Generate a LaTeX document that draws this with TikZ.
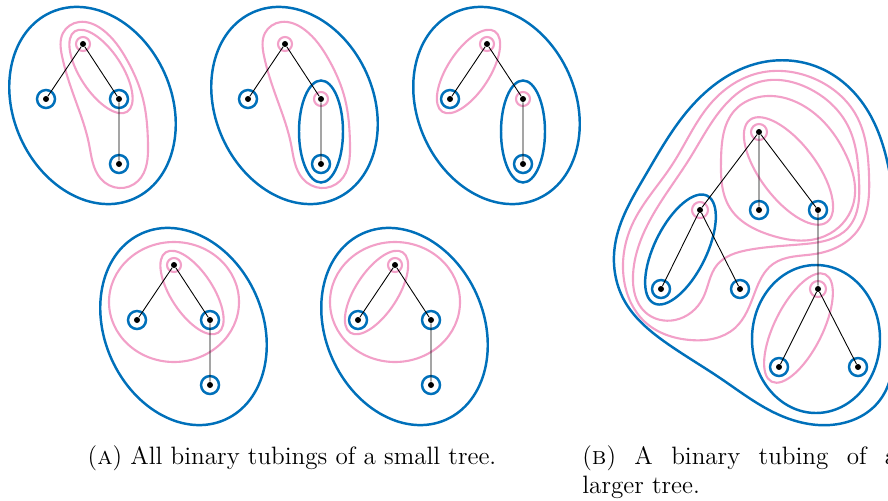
\documentclass[tikz,border=0pt]{standalone}
\usepackage{xcolor}
\usepackage{tikz}
\usetikzlibrary{calc, hobby}
\definecolor{tubeblue}{RGB}{0,112,186}
\definecolor{tubepink}{RGB}{242,160,200}

\begin{document}
\begin{tikzpicture}[x=0.02cm, y=-0.02cm,
    vertex/.style={circle, fill=black, inner sep=0pt, minimum size=0.12cm},
    edge/.style={draw=black, line width=0.5pt},
    btube/.style={draw=tubeblue, line width=1.4pt},
    ptube/.style={draw=tubepink, line width=1.2pt},
    caption/.style={font=\fontsize{14.3}{16.5}\selectfont, inner sep=0pt}]
  \useasboundingbox (0,0) rectangle (888,500);

  % (a) tree 1
  \begin{scope}[shift={(83,44)}]
    \node[vertex] (t1r) at (0,0) {};
    \node[vertex] (t1l) at (-37,55) {};
    \node[vertex] (t1c) at (36,55) {};
    \node[vertex] (t1g) at (36,120) {};
    \coordinate (t1m) at ($(t1r)!0.5!(t1c)$);
    \draw[btube, rotate around={24:(9.5,61.5)}] (9.5,61.5) ellipse [x radius=79, y radius=102];
    \draw[ptube, use Hobby shortcut, closed=true] (-4,-22) .. (20,-14) .. (44,16) .. (60,55)
      .. (65,100) .. (55,137) .. (36,144) .. (18,135) .. (6,100) .. (-8,55) .. (-21,12) .. (-20,-11);
    \draw[ptube, rotate around={-56.8:(t1m)}] (t1m) ellipse [x radius=48, y radius=21];
    \draw[ptube] (t1r.center) circle (7);
    \draw[btube] (t1l.center) circle (9) (t1c.center) circle (9) (t1g.center) circle (9);
    \draw[edge] (t1r) -- (t1l) (t1r) -- (t1c) (t1c) -- (t1g);
  \end{scope}

  % (a) tree 2
  \begin{scope}[shift={(285,44)}]
    \node[vertex] (t2r) at (0,0) {};
    \node[vertex] (t2l) at (-37,55) {};
    \node[vertex] (t2c) at (36,55) {};
    \node[vertex] (t2g) at (36,120) {};
    \draw[btube, rotate around={24:(9.5,61.5)}] (9.5,61.5) ellipse [x radius=79, y radius=102];
    \draw[ptube, use Hobby shortcut, closed=true] (-4,-22) .. (20,-14) .. (44,16) .. (60,55)
      .. (65,100) .. (55,137) .. (36,144) .. (18,135) .. (6,100) .. (-8,55) .. (-21,12) .. (-20,-11);
    \draw[btube] ($(t2c)!0.5!(t2g)$) ellipse [x radius=22, y radius=51];
    \draw[ptube] (t2r.center) circle (7) (t2c.center) circle (7);
    \draw[btube] (t2l.center) circle (9) (t2g.center) circle (9);
    \draw[edge] (t2r) -- (t2l) (t2r) -- (t2c) (t2c) -- (t2g);
  \end{scope}

  % (a) tree 3
  \begin{scope}[shift={(487,44)}]
    \node[vertex] (t3r) at (0,0) {};
    \node[vertex] (t3l) at (-37,55) {};
    \node[vertex] (t3c) at (36,55) {};
    \node[vertex] (t3g) at (36,120) {};
    \coordinate (t3m) at ($(t3r)!0.5!(t3l)$);
    \draw[btube, rotate around={24:(9.5,61.5)}] (9.5,61.5) ellipse [x radius=79, y radius=102];
    \draw[ptube, rotate around={56.8:(t3m)}] (t3m) ellipse [x radius=48, y radius=21];
    \draw[btube] ($(t3c)!0.5!(t3g)$) ellipse [x radius=22, y radius=51];
    \draw[ptube] (t3r.center) circle (7) (t3c.center) circle (7);
    \draw[btube] (t3l.center) circle (9) (t3g.center) circle (9);
    \draw[edge] (t3r) -- (t3l) (t3r) -- (t3c) (t3c) -- (t3g);
  \end{scope}

  % (a) tree 4
  \begin{scope}[shift={(174,265)}]
    \node[vertex] (t4r) at (0,0) {};
    \node[vertex] (t4l) at (-37,55) {};
    \node[vertex] (t4c) at (36,55) {};
    \node[vertex] (t4g) at (36,120) {};
    \coordinate (t4m) at ($(t4r)!0.5!(t4c)$);
    \draw[btube, rotate around={24:(9.5,61.5)}] (9.5,61.5) ellipse [x radius=79, y radius=102];
    \draw[ptube] (0,37) ellipse [x radius=65, y radius=60];
    \draw[ptube, rotate around={-56.8:(t4m)}] (t4m) ellipse [x radius=48, y radius=21];
    \draw[ptube] (t4r.center) circle (7);
    \draw[btube] (t4l.center) circle (9) (t4c.center) circle (9) (t4g.center) circle (9);
    \draw[edge] (t4r) -- (t4l) (t4r) -- (t4c) (t4c) -- (t4g);
  \end{scope}

  % (a) tree 5
  \begin{scope}[shift={(395,265)}]
    \node[vertex] (t5r) at (0,0) {};
    \node[vertex] (t5l) at (-37,55) {};
    \node[vertex] (t5c) at (36,55) {};
    \node[vertex] (t5g) at (36,120) {};
    \coordinate (t5m) at ($(t5r)!0.5!(t5l)$);
    \draw[btube, rotate around={24:(9.5,61.5)}] (9.5,61.5) ellipse [x radius=79, y radius=102];
    \draw[ptube] (0,37) ellipse [x radius=65, y radius=60];
    \draw[ptube, rotate around={56.8:(t5m)}] (t5m) ellipse [x radius=48, y radius=21];
    \draw[ptube] (t5r.center) circle (7);
    \draw[btube] (t5l.center) circle (9) (t5c.center) circle (9) (t5g.center) circle (9);
    \draw[edge] (t5r) -- (t5l) (t5r) -- (t5c) (t5c) -- (t5g);
  \end{scope}

  % (b) larger tree
  \node[vertex] (broot) at (759,132) {};
  \node[vertex] (ba) at (700,210) {};
  \node[vertex] (bm) at (759,210) {};
  \node[vertex] (bc) at (818,210) {};
  \node[vertex] (ba1) at (661,289) {};
  \node[vertex] (ba2) at (740,289) {};
  \node[vertex] (bd) at (818,289) {};
  \node[vertex] (bd1) at (779,367) {};
  \node[vertex] (bd2) at (858,367) {};
  \coordinate (bam) at ($(ba)!0.5!(ba1)$);
  \coordinate (bdm) at ($(bd)!0.5!(bd1)$);
  \coordinate (brm) at ($(broot)!0.5!(bc)$);

  \draw[btube, use Hobby shortcut, closed=true] (759,63) .. (820,68) .. (866,108) .. (890,175)
    .. (897,255) .. (895,335) .. (880,400) .. (830,425) .. (775,413) .. (720,378) .. (665,342)
    .. (624,300) .. (615,245) .. (645,176) .. (690,108);
  \draw[ptube, use Hobby shortcut, closed=true] (759,73) .. (815,79) .. (856,115) .. (869,175)
    .. (858,230) .. (815,254) .. (773,264) .. (755,292) .. (735,328) .. (690,340) .. (645,322)
    .. (624,280) .. (632,225) .. (672,165) .. (712,102);
  \draw[ptube, use Hobby shortcut, closed=true] (759,82) .. (810,89) .. (848,126) .. (859,180)
    .. (848,228) .. (805,244) .. (748,250) .. (717,265) .. (703,298) .. (675,320) .. (645,312)
    .. (633,275) .. (645,230) .. (690,158) .. (725,105);
  \draw[ptube, use Hobby shortcut, closed=true] (759,97) .. (810,110) .. (846,155) .. (853,205)
    .. (825,236) .. (770,235) .. (730,208) .. (721,160) .. (735,110);
  \draw[ptube, rotate around={-52.9:(brm)}] (brm) ellipse [x radius=64, y radius=28];
  \draw[btube, rotate around={63.7:(bam)}] (bam) ellipse [x radius=60, y radius=26];
  \draw[btube] (816,339) ellipse [x radius=64, y radius=74];
  \draw[ptube, rotate around={63.4:(bdm)}] (bdm) ellipse [x radius=60, y radius=24];
  \draw[ptube] (broot.center) circle (8) (ba.center) circle (8) (bd.center) circle (8);
  \draw[btube] (bm.center) circle (9) (bc.center) circle (9) (ba1.center) circle (9)
    (ba2.center) circle (9) (bd1.center) circle (9) (bd2.center) circle (9);
  \draw[edge] (broot) -- (ba) (broot) -- (bm) (broot) -- (bc) (ba) -- (ba1) (ba) -- (ba2)
    (bc) -- (bd) (bd) -- (bd1) (bd) -- (bd2);

  % captions
  \node[caption, anchor=base] (capa) at (292,464) {(\textsc{a}) All binary tubings of a small tree.};
  \node[caption, anchor=north west, text width=6.3cm, align=justify] (capb) at (582,445)
    {(\textsc{b}) A binary tubing of a larger tree.};
\end{tikzpicture}
\end{document}
